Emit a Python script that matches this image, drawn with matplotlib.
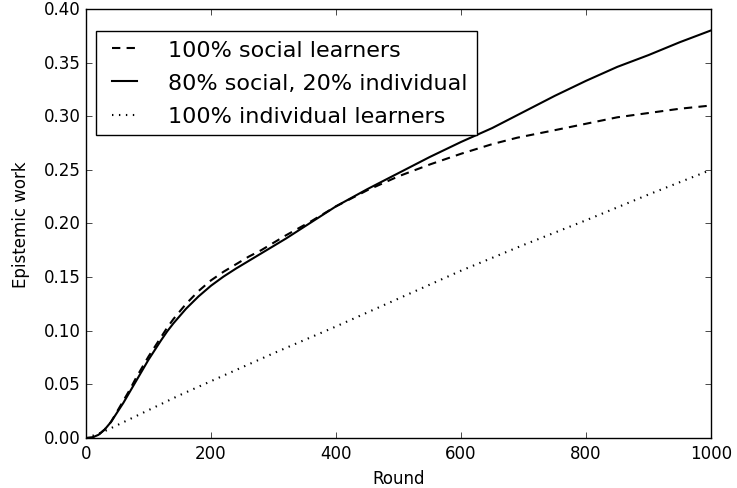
import numpy as np
import matplotlib.pyplot as plt

plt.style.use('classic')

rounds = [0, 10, 20, 30, 40, 50, 60, 70, 80, 90, 100, 110, 120, 130, 140, 160,
          180, 200, 220, 240, 260, 280, 300, 320, 360, 400, 450, 500, 550, 600,
          650, 690, 750, 800, 850, 900, 950, 1000]
social = [0.0, 0.0005, 0.003, 0.008, 0.015, 0.025, 0.035, 0.045, 0.056, 0.066,
          0.076, 0.085, 0.094, 0.103, 0.111, 0.125, 0.137, 0.147, 0.155, 0.162,
          0.169, 0.175, 0.182, 0.189, 0.202, 0.216, 0.231, 0.244, 0.255, 0.265,
          0.274, 0.280, 0.287, 0.293, 0.299, 0.303, 0.307, 0.310]
mixed = [0.0, 0.0005, 0.003, 0.008, 0.015, 0.024, 0.033, 0.043, 0.053, 0.063,
         0.073, 0.082, 0.091, 0.0995, 0.107, 0.1205, 0.132, 0.142, 0.1505,
         0.158, 0.165, 0.172, 0.179, 0.186, 0.201, 0.216, 0.232, 0.247, 0.262,
         0.276, 0.289, 0.301, 0.319, 0.333, 0.346, 0.357, 0.369, 0.380]

# individual learners, nearly linear
rounds_ind = [0, 25, 50, 100, 150, 200, 300, 400, 500, 600, 700, 800, 900, 1000]
individual = [0.0, 0.005, 0.012, 0.026, 0.040, 0.053, 0.079, 0.104, 0.130,
              0.156, 0.180, 0.203, 0.227, 0.250]

fig = plt.figure(figsize=(7.37, 4.89), dpi=100, facecolor='white')
ax = fig.add_axes([0.1167, 0.1022, 0.848, 0.8774])

ax.plot(rounds, social, 'k--', lw=1.5, dashes=(6, 4.5), label='100% social learners')
ax.plot(rounds, mixed, 'k-', lw=1.5, label='80% social, 20% individual')
ax.plot(rounds_ind, individual, 'k:', lw=1.5, dashes=(1, 4), label='100% individual learners')

ax.set_xlim(0, 1000)
ax.set_ylim(0, 0.4)
ax.set_yticks(np.arange(0, 0.41, 0.05))
ax.yaxis.set_major_formatter(plt.FormatStrFormatter('%.2f'))
ax.set_xlabel('Round')
ax.set_ylabel('Epistemic work', labelpad=10)

ax.legend(loc='upper left', bbox_to_anchor=(0.016, 0.949), borderaxespad=0,
          fontsize=16, handlelength=1.75, handletextpad=1.1, labelspacing=0.6)

fig.savefig('out.png', dpi=100, facecolor='white')
